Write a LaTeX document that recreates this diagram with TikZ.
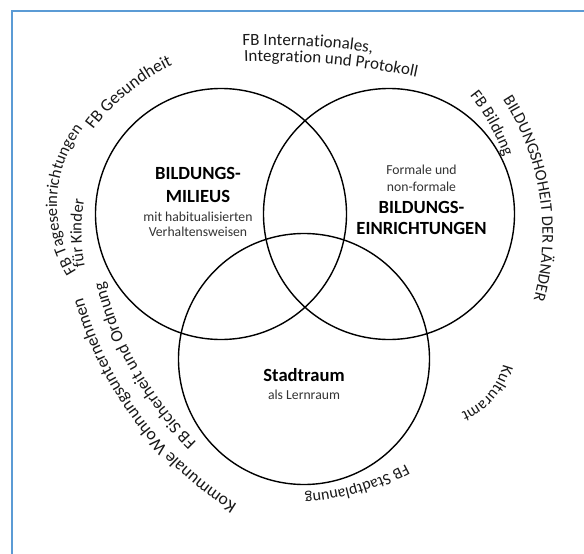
\documentclass[tikz,border=0pt]{standalone}
\usepackage{fontspec}
\setmainfont{Carlito}
\usetikzlibrary{positioning,decorations.text}
\definecolor{frameblue}{RGB}{91,155,213}
\tikzstyle{venn}      = [circle, draw, line width=1.4pt, minimum size=251pt, inner sep=0pt]
\tikzstyle{bigtext}   = [font=\bfseries\fontsize{18.6}{23.4}\selectfont, align=center, inner sep=0pt]
\tikzstyle{smalltext} = [font=\fontsize{13.7}{15.4}\selectfont, text=black!80, align=center, inner sep=0pt]
\tikzstyle{ring}      = [decorate, decoration={text along path, text align=left, text color=black!90}]
\tikzstyle{frame}     = [draw=frameblue, line width=2pt]
\newcommand{\ringsize}[1]{\fontsize{#1}{#1}\selectfont}

\begin{document}
\begin{tikzpicture}[x=1pt, y=1pt]
    \clip (0,0) rectangle (584,-554);
    \fill [white] (0,0) rectangle (584,-554);
    \draw [frame] (12,-11) rectangle (620,-600);

    % Place circles
    \node [venn] (milieu)   at (221,-214) {};
    \node [venn] (einricht) at (389,-214) {};
    \node [venn] (stadt)    at (304,-359) {};

    % Texts inside the circles
    \node [bigtext] (milieuTitle) at (198,-185) {BILDUNGS-\\MILIEUS};
    \node [smalltext, below of=milieuTitle, node distance=39.5pt] (milieuText) {mit habitualisierten\\Verhaltensweisen};
    \node [smalltext, font=\fontsize{13.7}{16.7}\selectfont] (einrichtText) at (421.5,-178.3) {Formale und\\non-formale};
    \node [bigtext, font=\bfseries\fontsize{18.6}{21}\selectfont, below of=einrichtText, node distance=39.5pt] (einrichtTitle) {BILDUNGS-\\EINRICHTUNGEN};
    \node [bigtext] (stadtTitle) at (304,-375) {Stadtraum};
    \node [smalltext, below of=stadtTitle, node distance=20pt] (stadtText) {als Lernraum};

    % Labels round the circles
    \path [ring, decoration={text={|\ringsize{17}|FB Internationales,}}]
        (267,-782) ++(91.9:737) arc [start angle=91.9, end angle=70, radius=737];
    \path [ring, decoration={text={|\ringsize{16.9}|Integration und Protokoll}}]
        (267,-782) ++(91.8:720.5) arc [start angle=91.8, end angle=65, radius=720.5];
    \path [ring, decoration={text={|\ringsize{17.5}|FB Gesundheit}}]
        (265,-260) ++(142.9:215.5) arc [start angle=142.9, end angle=95, radius=215.5];
    \path [ring, decoration={text={|\ringsize{16.5}|FB Tageseinrichtungen}}]
        (181,-204.5) ++(212.5:124) arc [start angle=212.5, end angle=120, radius=124];
    \path [ring, decoration={text={|\ringsize{16.5}|für Kinder}}]
        (260,-232) ++(191.1:178.5) arc [start angle=191.1, end angle=150, radius=178.5];
    \path [ring, decoration={text={|\ringsize{17.2}|FB Sicherheit und Ordnung}}]
        (425,-204) ++(226.2:330) arc [start angle=226.2, end angle=180, radius=330];
    \path [ring, decoration={text={|\ringsize{17.5}|Kommunale Wohnungsunternehmen}}]
        (425,-204) ++(238:354.5) arc [start angle=238, end angle=185, radius=354.5];
    \path [ring, decoration={text={|\ringsize{16.4}|BILDUNGSHOHEIT DER LÄNDER}}]
        (295,-234) ++(32.9:247.5) arc [start angle=32.9, end angle=-40, radius=247.5];
    \path [ring, decoration={text={|\ringsize{16.5}|FB Bildung}}]
        (295,-234) ++(38.4:223) arc [start angle=38.4, end angle=0, radius=223];
    \path [ring, decoration={text={|\ringsize{16.2}|Kulturamt}}]
        (434,-347) ++(-14.5:71.5) arc [start angle=-14.5, end angle=-90, radius=71.5];
    \path [ring, decoration={text={|\ringsize{16}|FB Stadtplanung}}]
        (284,-240) ++(-61.5:255.5) arc [start angle=-61.5, end angle=-110, radius=255.5];
\end{tikzpicture}
\end{document}
